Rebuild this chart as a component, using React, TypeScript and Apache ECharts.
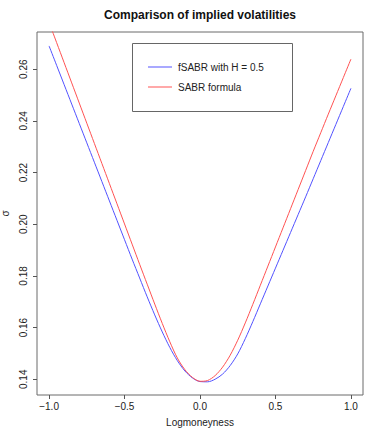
import React, { useEffect, useRef } from "react";
import * as echarts from "echarts";

const xValues = [
  -1.0, -0.95, -0.9, -0.85, -0.8, -0.75, -0.7, -0.65, -0.6, -0.55, -0.5,
  -0.45, -0.4, -0.35, -0.3, -0.25, -0.2, -0.15, -0.1, -0.05, 0.0,
  0.05, 0.1, 0.15, 0.2, 0.25, 0.3, 0.35, 0.4, 0.45, 0.5,
  0.55, 0.6, 0.65, 0.7, 0.75, 0.8, 0.85, 0.9, 0.95, 1.0,
];

const fsabrValues = [
  0.269, 0.2615, 0.254, 0.2465, 0.239, 0.2315, 0.224, 0.2165, 0.209, 0.2015, 0.194,
  0.1865, 0.1792, 0.1719, 0.1649, 0.1583, 0.1523, 0.1472, 0.1432, 0.1405, 0.1391,
  0.139, 0.14, 0.142, 0.1453, 0.1498, 0.1557, 0.1623, 0.1692, 0.1761, 0.183,
  0.1899, 0.1968, 0.2037, 0.2106, 0.2176, 0.2246, 0.2316, 0.2386, 0.2456, 0.2526,
];

const sabrValues = [
  0.2781, 0.2703, 0.2625, 0.2547, 0.2469, 0.2391, 0.2313, 0.2235, 0.2157, 0.2079, 0.2001,
  0.1923, 0.1845, 0.1768, 0.1691, 0.1616, 0.1545, 0.1482, 0.1437, 0.1407, 0.1392,
  0.1395, 0.1414, 0.1447, 0.1493, 0.1551, 0.1618, 0.169, 0.1764, 0.1838, 0.1912,
  0.1986, 0.206, 0.2134, 0.2208, 0.2282, 0.2354, 0.2426, 0.2497, 0.2568, 0.2639,
];

const xTicks = [-1.0, -0.5, 0.0, 0.5, 1.0];
const yTicks = [0.14, 0.16, 0.18, 0.2, 0.22, 0.24, 0.26];
const seriesNames = ["fSABR with H = 0.5", "SABR formula"];
const titleText = "Comparison of implied volatilities";
const xName = "Logmoneyness";
const yName = "σ";

const FONT = "'Liberation Sans', Arial, Helvetica, sans-serif";
const BLUE = "#5252ff";
const RED = "#ff5252";

function fmt(v: number, d: number) {
  const s = v.toFixed(d);
  return v < 0 ? "\u2212" + s.slice(1) : s;
}

export default function App() {
  const ref = useRef<HTMLDivElement>(null);
  useEffect(() => {
    if (!ref.current) return;
    const chart = echarts.init(ref.current, null, { renderer: "svg" });
    const blue = xValues.map((x, i) => [x, fsabrValues[i]]);
    const red = xValues.map((x, i) => [x, sabrValues[i]]);
    chart.setOption({
      animation: false,
      backgroundColor: "#ffffff",
      textStyle: { fontFamily: FONT },
      grid: {
        left: 37,
        top: 32,
        right: 19,
        bottom: 41,
        outerBoundsMode: "none",
        containLabel: false,
        show: true,
        borderColor: "#6a6a6a",
        borderWidth: 1,
        backgroundColor: "transparent",
      },
      legend: {
        orient: "vertical",
        left: 143,
        top: 57,
        icon: "rect",
        itemWidth: 24,
        itemHeight: 1,
        itemGap: 10,
        selectedMode: false,
        data: seriesNames,
        z: 101,
        textStyle: {
          fontFamily: FONT,
          fontSize: 10,
          color: "#222",
          padding: [0, 0, 0, 1],
        },
      },
      xAxis: {
        type: "value",
        min: -1.08,
        max: 1.08,
        name: xName,
        nameLocation: "middle",
        nameGap: 22,
        nameTextStyle: { fontFamily: FONT, fontSize: 10, color: "#222" },
        axisLine: { show: false, onZero: false },
        splitLine: { show: false },
        axisTick: {
          show: true,
          length: 4,
          customValues: xTicks,
          lineStyle: { color: "#555" },
        },
        axisLabel: {
          customValues: xTicks,
          formatter: (v: number) => fmt(v, 1),
          fontFamily: FONT,
          fontSize: 10,
          color: "#222",
          margin: 6,
        },
      },
      yAxis: {
        type: "value",
        min: 0.1339,
        max: 0.2744,
        name: yName,
        nameLocation: "middle",
        nameGap: 27,
        nameTextStyle: { fontFamily: FONT, fontSize: 10, color: "#222" },
        axisLine: { show: false, onZero: false },
        splitLine: { show: false },
        axisTick: {
          show: true,
          length: 4,
          customValues: yTicks,
          lineStyle: { color: "#555" },
        },
        axisLabel: {
          customValues: yTicks,
          formatter: (v: number) => fmt(v, 2),
          rotate: 90,
          fontFamily: FONT,
          fontSize: 10,
          color: "#222",
          margin: 9,
        },
      },
      graphic: [
        {
          type: "text",
          x: 200,
          y: 15,
          style: {
            text: titleText,
            fontFamily: FONT,
            fontSize: 12,
            fontWeight: "bold",
            fill: "#111",
            textAlign: "center",
            textVerticalAlign: "middle",
          },
        },
        {
          type: "rect",
          shape: { x: 132.5, y: 43.5, width: 160, height: 68 },
          style: { fill: "#fff", stroke: "#666", lineWidth: 1 },
          z: 50,
        },
      ],
      series: [
        {
          name: seriesNames[0],
          type: "line",
          data: blue,
          showSymbol: false,
          smooth: 0.3,
          clip: true,
          lineStyle: { color: BLUE, width: 1 },
          itemStyle: { color: BLUE },
        },
        {
          name: seriesNames[1],
          type: "line",
          data: red,
          showSymbol: false,
          smooth: 0.3,
          clip: true,
          lineStyle: { color: RED, width: 1 },
          itemStyle: { color: RED },
        },
      ],
    });
    return () => chart.dispose();
  }, []);
  return (
    <div
      ref={ref}
      style={{ position: "fixed", left: 0, top: 0, width: 382, height: 436, background: "#fff" }}
    />
  );
}
